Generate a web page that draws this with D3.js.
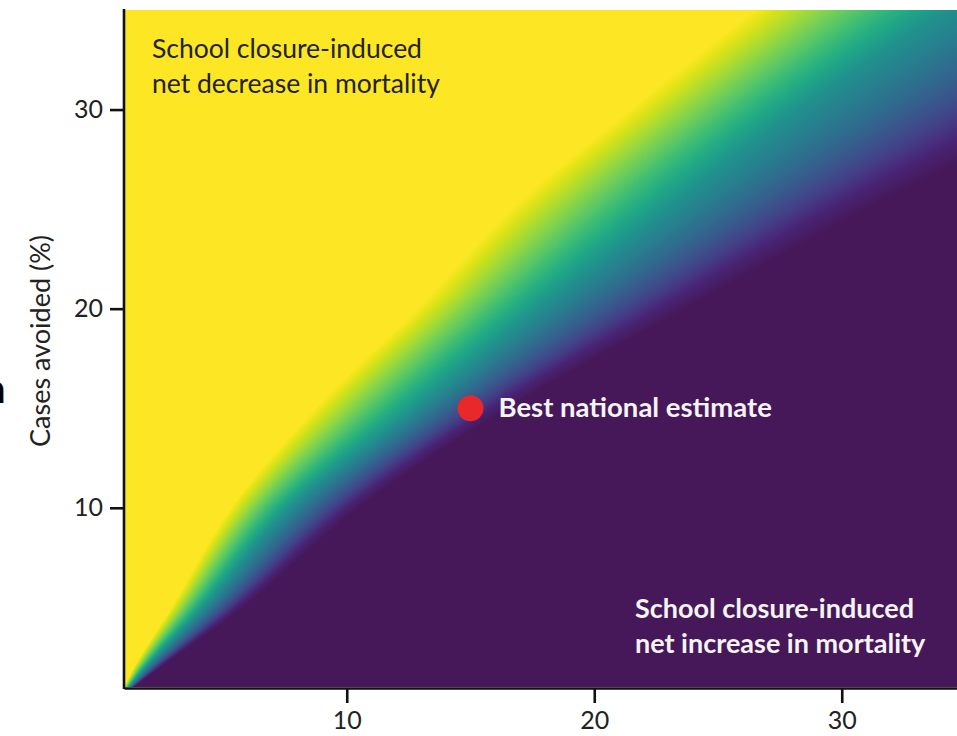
<!DOCTYPE html>
<html>
<head>
<meta charset="utf-8">
<script src="https://cdn.jsdelivr.net/npm/d3@7"></script>
<style>
  body { margin: 0; background: #fff; }
  svg { display: block; font-family: Lato, "Open Sans", sans-serif; }
</style>
</head>
<body>
<div id="chart"></div>
<script>
// colour field: for each row (cases avoided, %) the x value
// where the colour is fully yellow, mid teal and fully purple
const yRows   = [1,   2,   5,   10,  15,   20,   25,   30,   35];
const xYellow = [1.0, 1.4, 2.9, 5.3, 8.7,  12.8, 16.6, 21.4, 26.4];
const xMid    = [1.2, 1.9, 4.2, 7.7, 12.8, 17.8, 23.0, 28.3, 34.3];
const xPurple = [1.4, 2.5, 5.8, 10.5, 16.5, 23.7, 31.0, 39.0, 47.0];

const xTicks = [10, 20, 30];
const yTicks = [10, 20, 30];
const bestEstimate = { x: 15, y: 15, label: "Best national estimate" };
const labelDecrease = ["School closure-induced", "net decrease in mortality"];
const labelIncrease = ["School closure-induced", "net increase in mortality"];
const yLabel = "Cases avoided (%)";

const width = 957, height = 736;
const padding = [10, 0, 49, 124]; // top, right, bottom, left

const x = d3.scaleLinear().domain([1, 35]).range([padding[3], padding[3] + 34 * 24.75]);
const y = d3.scaleLinear().domain([1, 35]).range([height - padding[2], padding[0]]);

// smooth (monotone cubic) curve through the read rows so the band has no kinks
function monotone(xs, ys) {
  const n = xs.length, d = [], m = [];
  for (let i = 0; i < n - 1; i++) d[i] = (ys[i + 1] - ys[i]) / (xs[i + 1] - xs[i]);
  m[0] = d[0]; m[n - 1] = d[n - 2];
  for (let i = 1; i < n - 1; i++) m[i] = d[i - 1] * d[i] <= 0 ? 0 : 2 / (1 / d[i - 1] + 1 / d[i]);
  return t => {
    const i = Math.max(0, Math.min(n - 2, d3.bisectRight(xs, t) - 1));
    const hh = xs[i + 1] - xs[i], s = (t - xs[i]) / hh;
    const s2 = s * s, s3 = s2 * s;
    return (2 * s3 - 3 * s2 + 1) * ys[i] + (s3 - 2 * s2 + s) * hh * m[i]
      + (-2 * s3 + 3 * s2) * ys[i + 1] + (s3 - s2) * hh * m[i + 1];
  };
}

// viridis, with the flat purple as it appears in the figure
const purple = "#46185a";
const lowEnd = d3.interpolateRgb(purple, d3.interpolateViridis(0.1));
const colour = v => v < 0.1 ? lowEnd(v / 0.1) : d3.interpolateViridis(v);

const svg = d3.select("#chart").append("svg")
  .attr("width", width)
  .attr("height", height);

// heatmap drawn pixel by pixel into a canvas, then put into the svg
const x0 = x.range()[0], y0 = y.range()[1];
const w = Math.ceil(x.range()[1] - x0), h = Math.ceil(y.range()[0] - y0);
const canvas = document.createElement("canvas");
canvas.width = w; canvas.height = h;
const ctx = canvas.getContext("2d");
const img = ctx.createImageData(w, h);
const rowYellow = monotone(yRows, xYellow);
const rowMid = monotone(yRows, xMid);
const rowPurple = monotone(yRows, xPurple);
for (let j = 0; j < h; j++) {
  const yv = y.invert(y0 + j + 0.5);
  const v = d3.scaleLinear()
    .domain([rowYellow(yv), rowMid(yv), rowPurple(yv)])
    .range([1, 0.5, 0])
    .clamp(true);
  for (let i = 0; i < w; i++) {
    const c = d3.rgb(colour(v(x.invert(x0 + i + 0.5))));
    const k = (j * w + i) * 4;
    img.data[k] = c.r; img.data[k + 1] = c.g; img.data[k + 2] = c.b; img.data[k + 3] = 255;
  }
}
ctx.putImageData(img, 0, 0);
svg.append("image")
  .attr("x", x0).attr("y", y0)
  .attr("width", w).attr("height", h)
  .attr("href", canvas.toDataURL());

// axes
const yAxis = d3.axisLeft(y).tickValues(yTicks).tickSize(14).tickSizeOuter(0).tickPadding(7);
const xAxis = d3.axisBottom(x).tickValues(xTicks).tickSize(15).tickSizeOuter(0).tickPadding(8);
const gy = svg.append("g").attr("transform", `translate(${x0}, 0)`).call(yAxis);
const gx = svg.append("g").attr("transform", `translate(0, ${y.range()[0] + 1})`).call(xAxis);
gy.select(".domain").attr("d", `M0,${y0 - 1}V${y.range()[0] + 2}`);
[gx, gy].forEach(g => {
  g.select(".domain").attr("stroke", "#111").attr("stroke-width", 2.6);
  g.selectAll(".tick line").attr("stroke", "#111").attr("stroke-width", 2.6);
  g.selectAll(".tick text").attr("fill", "#222").attr("font-size", 25)
    .attr("font-family", "Lato, sans-serif");
});

svg.append("text")
  .attr("transform", `translate(50, 341) rotate(-90)`)
  .attr("text-anchor", "middle")
  .attr("font-size", 27)
  .attr("fill", "#222")
  .text(yLabel);

// stray cut-off glyph at the left edge
svg.append("text")
  .attr("x", -17).attr("y", 403)
  .attr("font-size", 40).attr("font-weight", "bold").attr("fill", "#000")
  .text("n");

// region labels
svg.append("g").selectAll("text")
  .data(labelDecrease).enter().append("text")
  .attr("x", 152)
  .attr("y", (d, i) => 58 + i * 35)
  .attr("font-size", 26.5)
  .attr("fill", "#222")
  .text(d => d);

svg.append("g").selectAll("text")
  .data(labelIncrease).enter().append("text")
  .attr("x", 635)
  .attr("y", (d, i) => 618 + i * 35)
  .attr("font-size", 27)
  .attr("font-weight", "bold")
  .attr("fill", "#f4f4f4")
  .text(d => d);

// best estimate
svg.append("circle")
  .attr("cx", x(bestEstimate.x)).attr("cy", y(bestEstimate.y))
  .attr("r", 13)
  .attr("fill", "#e8282b");
svg.append("text")
  .attr("x", x(bestEstimate.x) + 28).attr("y", y(bestEstimate.y) + 9)
  .attr("font-size", 27.5)
  .attr("font-weight", "bold")
  .attr("fill", "#f4f4f4")
  .text(bestEstimate.label);
</script>
</body>
</html>
